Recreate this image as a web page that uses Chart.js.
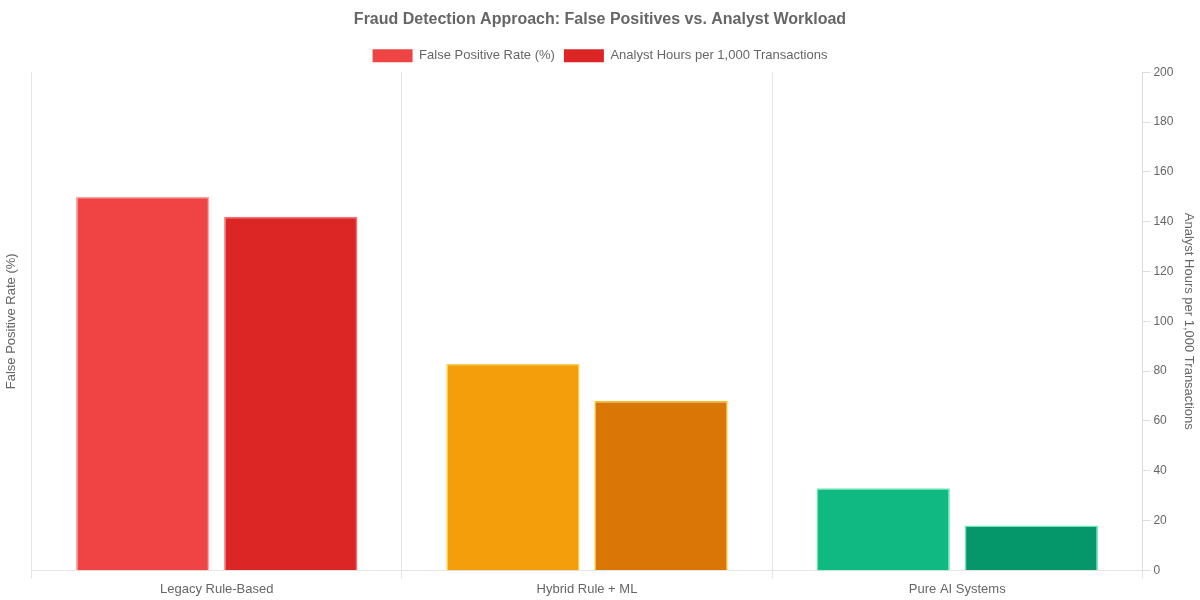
<!DOCTYPE html>
<html>
<head>
<meta charset="utf-8">
<script src="https://cdn.jsdelivr.net/npm/chart.js@4.4.1/dist/chart.umd.min.js"></script>
<style>
html,body{margin:0;padding:0;background:#fff;}
#wrap{width:1200px;height:600px;position:relative;}
</style>
</head>
<body>
<div id="wrap"><canvas id="c"></canvas></div>
<script>
const categories = ['Legacy Rule-Based', 'Hybrid Rule + ML', 'Pure AI Systems'];
const falsePositiveRate = [150, 83, 33];
const analystHours = [142, 68, 18];
const yTicksMax = 200;
const yTicksStep = 20;

const fpColors = ['#ef4444', '#f59e0b', '#10b981'];
const fpBorders = ['#fca5a5', '#fcd34d', '#6ee7b7'];
const ahColors = ['#dc2626', '#d97706', '#059669'];
const ahBorders = ['#f87171', '#fbbf24', '#6ee7b7'];

Chart.defaults.font.family = '"Liberation Sans", Arial, Helvetica, sans-serif';
Chart.defaults.color = '#666';

new Chart(document.getElementById('c'), {
  type: 'bar',
  data: {
    labels: categories,
    datasets: [
      {
        label: 'False Positive Rate (%)',
        data: falsePositiveRate,
        backgroundColor: fpColors,
        borderColor: fpBorders,
        borderWidth: 1.5,
        yAxisID: 'y'
      },
      {
        label: 'Analyst Hours per 1,000 Transactions',
        data: analystHours,
        backgroundColor: ahColors,
        borderColor: ahBorders,
        borderWidth: 1.5,
        yAxisID: 'y1'
      }
    ]
  },
  options: {
    responsive: true,
    maintainAspectRatio: false,
    animation: false,
    plugins: {
      title: {
        display: true,
        text: 'Fraud Detection Approach: False Positives vs. Analyst Workload',
        font: { size: 16, weight: 'bold' },
        color: '#666',
        padding: { top: 10, bottom: 11 }
      },
      legend: {
        display: true,
        labels: {
          boxWidth: 40,
          boxHeight: 13,
          padding: 9,
          font: { size: 13 },
          color: '#666',
          generateLabels(chart) {
            return chart.data.datasets.map((ds, i) => ({
              text: ds.label,
              fillStyle: ds.backgroundColor[0],
              strokeStyle: ds.backgroundColor[0],
              lineWidth: 0,
              datasetIndex: i,
              hidden: !chart.isDatasetVisible(i),
              fontColor: '#666'
            }));
          }
        }
      },
      tooltip: { enabled: false }
    },
    scales: {
      x: {
        grid: { display: true, color: '#e5e5e5' },
        ticks: { font: { size: 13 }, color: '#666' }
      },
      y: {
        position: 'left',
        min: 0,
        max: yTicksMax,
        ticks: { display: false, stepSize: yTicksStep },
        grid: { display: false },
        border: { display: false },
        title: { display: true, text: 'False Positive Rate (%)', font: { size: 13 }, color: '#666' }
      },
      y1: {
        position: 'right',
        min: 0,
        max: yTicksMax,
        ticks: { stepSize: yTicksStep, font: { size: 12 }, color: '#666' },
        grid: { drawOnChartArea: false, color: '#ddd' },
        border: { display: true, color: '#ddd' },
        title: { display: true, text: 'Analyst Hours per 1,000 Transactions', font: { size: 13 }, color: '#666' }
      }
    }
  }
});
</script>
</body>
</html>
